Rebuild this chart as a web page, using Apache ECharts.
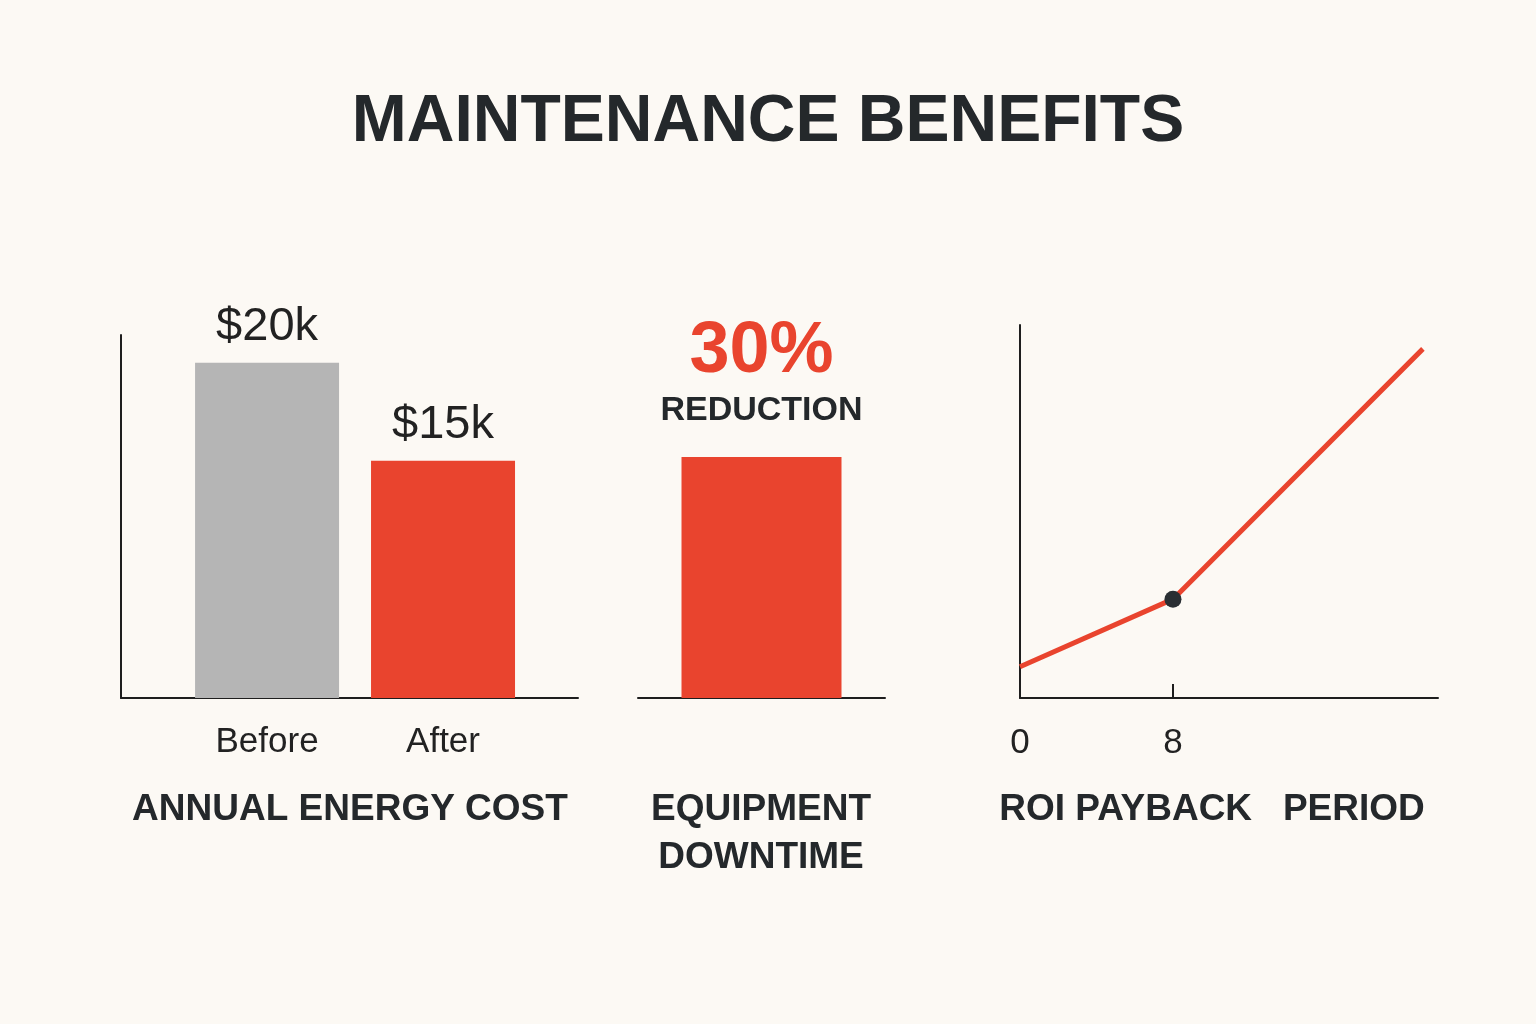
<!DOCTYPE html>
<html>
<head>
<meta charset="utf-8">
<script src="https://cdn.jsdelivr.net/npm/echarts@6/dist/echarts.min.js"></script>
<style>
  html, body { margin: 0; padding: 0; background: #fcf9f4; }
  #main { width: 1536px; height: 1024px; }
</style>
</head>
<body>
<div id="main"></div>
<script>
// data
const costCategories = ['Before', 'After'];
const costValues = [20, 15];
const costLabels = ['$20k', '$15k'];
const downtimeValue = [30];
const downtimeLabel = '30%';
const roiPoints = [[0, 8.4], [8, 26.5], [21.07, 93.6]];
const roiTicks = [0, 8];
const roiBreakEven = 8;

const RED = '#e9442e';
const GRAY = '#b5b5b5';
const INK = '#24282b';
const FONT = 'Liberation Sans';

const chart = echarts.init(document.getElementById('main'));

const axisLine = { show: true, onZero: false, lineStyle: { color: '#1e1e1e', width: 2 } };

const option = {
  backgroundColor: '#fcf9f4',
  animation: false,
  grid: [
    { left: 121, top: 335, width: 457, height: 363 },
    { left: 638, top: 335, width: 247, height: 363 },
    { left: 1020, top: 325, width: 418, height: 373 }
  ],
  xAxis: [
    {
      gridIndex: 0, type: 'value', min: -0.83, max: 1.767,
      axisLine: axisLine, splitLine: { show: false }, axisTick: { show: false },
      axisLabel: {
        customValues: [0, 1], margin: 27,
        formatter: v => costCategories[Math.round(v)],
        color: '#222', fontSize: 35, fontFamily: FONT
      }
    },
    {
      gridIndex: 1, type: 'category', data: ['Downtime'],
      axisLine: axisLine, axisTick: { show: false }, axisLabel: { show: false }
    },
    {
      gridIndex: 2, type: 'value', min: 0, max: 21.86,
      axisLine: axisLine, splitLine: { show: false },
      axisTick: { show: true, customValues: [roiBreakEven], inside: true, length: 14, lineStyle: { color: '#1e1e1e', width: 2 } },
      axisLabel: { customValues: roiTicks, margin: 28, color: '#222', fontSize: 35, fontFamily: FONT }
    }
  ],
  yAxis: [
    {
      gridIndex: 0, type: 'value', min: 2.9, max: 21.42,
      axisLine: axisLine, splitLine: { show: false }, axisTick: { show: false }, axisLabel: { show: false }
    },
    {
      gridIndex: 1, type: 'value', min: 0, max: 45.2,
      axisLine: { show: false }, splitLine: { show: false }, axisTick: { show: false }, axisLabel: { show: false }
    },
    {
      gridIndex: 2, type: 'value', min: 0, max: 100,
      axisLine: axisLine, splitLine: { show: false }, axisTick: { show: false }, axisLabel: { show: false }
    }
  ],
  series: [
    {
      type: 'bar', xAxisIndex: 0, yAxisIndex: 0, barWidth: 144,
      data: costValues.map((v, i) => ({
        value: [i, v],
        itemStyle: { color: i === 0 ? GRAY : RED }
      })),
      label: {
        show: true, position: 'top', distance: 12,
        formatter: p => costLabels[p.dataIndex],
        color: '#222', fontSize: 47, fontFamily: FONT
      }
    },
    {
      type: 'bar', xAxisIndex: 1, yAxisIndex: 1, barWidth: 160,
      data: downtimeValue,
      itemStyle: { color: RED },
      label: {
        show: true, position: 'top', distance: 28,
        formatter: '{a|' + downtimeLabel + '}\n{b|REDUCTION}',
        rich: {
          a: { color: RED, fontSize: 72, fontWeight: 'bold', fontFamily: FONT, lineHeight: 82, align: 'center' },
          b: { color: INK, fontSize: 34, fontWeight: 'bold', fontFamily: FONT, lineHeight: 36, align: 'center' }
        }
      }
    },
    {
      type: 'line', xAxisIndex: 2, yAxisIndex: 2,
      data: roiPoints.map(p => ({
        value: p,
        symbol: p[0] === roiBreakEven ? 'circle' : 'none',
        symbolSize: 17,
        itemStyle: { color: '#2a2f33' }
      })),
      showSymbol: true,
      lineStyle: { color: RED, width: 5 }
    }
  ],
  graphic: [
    { type: 'text', x: 768, y: 123, style: { text: 'MAINTENANCE BENEFITS', fill: INK, font: 'bold 66px "Liberation Sans"', textAlign: 'center', textVerticalAlign: 'middle' } },
    { type: 'text', x: 350, y: 810, style: { text: 'ANNUAL ENERGY COST', fill: INK, font: '600 37px "Liberation Sans"', textAlign: 'center', textVerticalAlign: 'middle' } },
    { type: 'text', x: 761, y: 810, style: { text: 'EQUIPMENT', fill: INK, font: '600 37px "Liberation Sans"', textAlign: 'center', textVerticalAlign: 'middle' } },
    { type: 'text', x: 761, y: 858, style: { text: 'DOWNTIME', fill: INK, font: '600 37px "Liberation Sans"', textAlign: 'center', textVerticalAlign: 'middle' } },
    { type: 'text', x: 1212, y: 810, style: { text: 'ROI PAYBACK   PERIOD', fill: INK, font: '600 37px "Liberation Sans"', textAlign: 'center', textVerticalAlign: 'middle' } }
  ]
};

chart.setOption(option);
</script>
</body>
</html>
